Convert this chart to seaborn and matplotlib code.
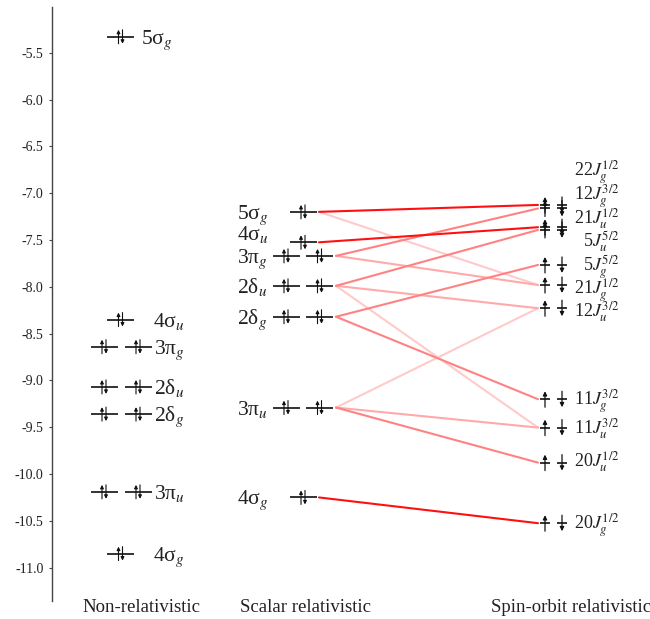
import matplotlib
matplotlib.use("Agg")
import matplotlib.pyplot as plt
import seaborn as sns
import pandas as pd
import numpy as np

# ---------------- data ----------------
nr_labels = ["5σ$_{g}$", "4σ$_{u}$", "3π$_{g}$", "2δ$_{u}$", "2δ$_{g}$", "3π$_{u}$", "4σ$_{g}$"]
nr_energy = [-5.33, -8.35, -8.64, -9.07, -9.36, -10.19, -10.85]
nr_degen = [1, 1, 2, 2, 2, 2, 1]

sr_labels = ["5σ$_{g}$", "4σ$_{u}$", "3π$_{g}$", "2δ$_{u}$", "2δ$_{g}$", "3π$_{u}$", "4σ$_{g}$"]
sr_energy = [-7.20, -7.525, -7.67, -7.99, -8.32, -9.29, -10.25]
sr_degen = [1, 1, 2, 2, 2, 2, 1]

so_labels = ["22$J_{g}^{1/2}$", "12$J_{g}^{3/2}$", "21$J_{u}^{1/2}$", "5$J_{u}^{5/2}$",
             "5$J_{g}^{5/2}$", "21$J_{g}^{1/2}$", "12$J_{u}^{3/2}$", "11$J_{g}^{3/2}$",
             "11$J_{u}^{3/2}$", "20$J_{u}^{1/2}$", "20$J_{g}^{1/2}$"]
so_energy = [-7.126, -7.164, -7.364, -7.393, -7.767, -7.981, -8.229,
             -9.201, -9.504, -9.878, -10.525]
# label text baselines (layout for crowded labels)
so_label_E = [-6.817, -7.073, -7.322, -7.572, -7.828, -8.077, -8.320,
              -9.263, -9.565, -9.922, -10.580]

# links: scalar index -> spin-orbit index, strength
link_from = [0, 0, 1, 2, 2, 3, 3, 3, 4, 4, 5, 5, 5, 6]
link_to = [0, 5, 2, 1, 5, 3, 6, 8, 4, 7, 6, 8, 9, 10]
link_weight = ["strong", "faint", "strong", "medium", "light", "medium", "light", "faint",
               "medium", "medium", "faint", "light", "medium", "strong"]

tick_values = [-5.5, -6.0, -6.5, -7.0, -7.5, -8.0, -8.5, -9.0, -9.5, -10.0, -10.5, -11.0]
column_titles = ["Non-relativistic", "Scalar relativistic", "Spin-orbit relativistic"]

# ---------------- style ----------------
sns.set_theme(style="white")
plt.rcParams["font.family"] = ["Liberation Serif", "DejaVu Serif"]
plt.rcParams["mathtext.fontset"] = "stix"

W, H = 650, 619
fig = plt.figure(figsize=(W / 100, H / 100), dpi=100)
ax_left, ax_top, ax_bot = 52, 7, 601
ax = fig.add_axes([ax_left / W, (H - ax_bot) / H, (W - ax_left) / W, (ax_bot - ax_top) / H])
ax.set_xlim(ax_left, W)
ax.set_ylim(-11.356, -5.012)
ppe = (ax_bot - ax_top) / (11.356 - 5.012)  # pixels per eV

for s in ["top", "right", "bottom"]:
    ax.spines[s].set_visible(False)
ax.spines["left"].set_color("#444444")
ax.spines["left"].set_linewidth(1.0)
ax.set_xticks([])
ax.set_yticks(tick_values)
ax.set_yticklabels([f"{v:.1f}" for v in tick_values])
ax.tick_params(axis="y", left=True, length=2, width=0.8, color="#444444",
               labelsize=10, pad=4, labelcolor="#222222")

LEVEL_C = "#111111"


def pair_arrows(xc, E, half_px=7, dx=2.0):
    h = half_px / ppe
    ax.annotate("", xy=(xc - dx, E + h), xytext=(xc - dx, E - h),
                arrowprops=dict(arrowstyle="-|>", lw=0.8, color=LEVEL_C,
                                mutation_scale=5, shrinkA=0, shrinkB=0))
    ax.annotate("", xy=(xc + dx, E - h), xytext=(xc + dx, E + h),
                arrowprops=dict(arrowstyle="-|>", lw=0.8, color=LEVEL_C,
                                mutation_scale=5, shrinkA=0, shrinkB=0))


def draw_column(energies, degen, x_single, x_double, half_w=13.5):
    for E, d in zip(energies, degen):
        centers = [x_single] if d == 1 else list(x_double)
        for xc in centers:
            ax.hlines(E, xc - half_w, xc + half_w, color=LEVEL_C, lw=1.2)
            pair_arrows(xc, E)


# Non-relativistic
draw_column(nr_energy, nr_degen, 120.5, (104, 138))
nr_label_x = [141, 153, 154, 154, 154, 154, 153]
for lab, E, x in zip(nr_labels, nr_energy, nr_label_x):
    ax.text(x, E - 7 / ppe, lab, fontsize=15.5, ha="left", va="baseline", color="#222222")

# Scalar relativistic
draw_column(sr_energy, sr_degen, 303, (286, 319.5))
sr_label_off = [7, -2, 7.5, 7, 7, 7, 7]
for lab, E, off in zip(sr_labels, sr_energy, sr_label_off):
    ax.text(237, E - off / ppe, lab, fontsize=15.5, ha="left", va="baseline", color="#222222")

# Spin-orbit relativistic
h = 8 / ppe
for E in so_energy:
    ax.hlines(E, 540, 550, color=LEVEL_C, lw=1.2)
    ax.hlines(E, 557, 567, color=LEVEL_C, lw=1.2)
    ax.annotate("", xy=(545, E + h), xytext=(545, E - h),
                arrowprops=dict(arrowstyle="-|>", lw=0.9, color=LEVEL_C,
                                mutation_scale=6, shrinkA=0, shrinkB=0))
    ax.annotate("", xy=(562, E - h), xytext=(562, E + h),
                arrowprops=dict(arrowstyle="-|>", lw=0.9, color=LEVEL_C,
                                mutation_scale=6, shrinkA=0, shrinkB=0))
for lab, Et in zip(so_labels, so_label_E):
    ax.text(620, Et, lab, fontsize=13, ha="right", va="baseline", color="#222222")

# Correlation links
rows = []
for k, (i, j, w) in enumerate(zip(link_from, link_to, link_weight)):
    x0 = 319 if sr_degen[i] == 1 else 336
    rows.append({"link": k, "x": x0, "E": sr_energy[i], "weight": w})
    rows.append({"link": k, "x": 538, "E": so_energy[j], "weight": w})
df = pd.DataFrame(rows)
palette = {"strong": "#ff1010", "medium": "#ff8282", "light": "#ffaaaa", "faint": "#ffcaca"}
for w in ["faint", "light", "medium", "strong"]:
    sub = df[df["weight"] == w]
    sns.lineplot(data=sub, x="x", y="E", units="link", estimator=None, sort=False,
                 color=palette[w], linewidth=1.5, ax=ax, legend=False)
ax.set_xlabel("")
ax.set_ylabel("")

# Column titles
for t, xc in zip(column_titles, [141, 305, 571]):
    fig.text(xc / W, 1 - 608 / H, t, fontsize=13.5, ha="center", va="center", color="#222222")

fig.savefig("out.png", dpi=100)
